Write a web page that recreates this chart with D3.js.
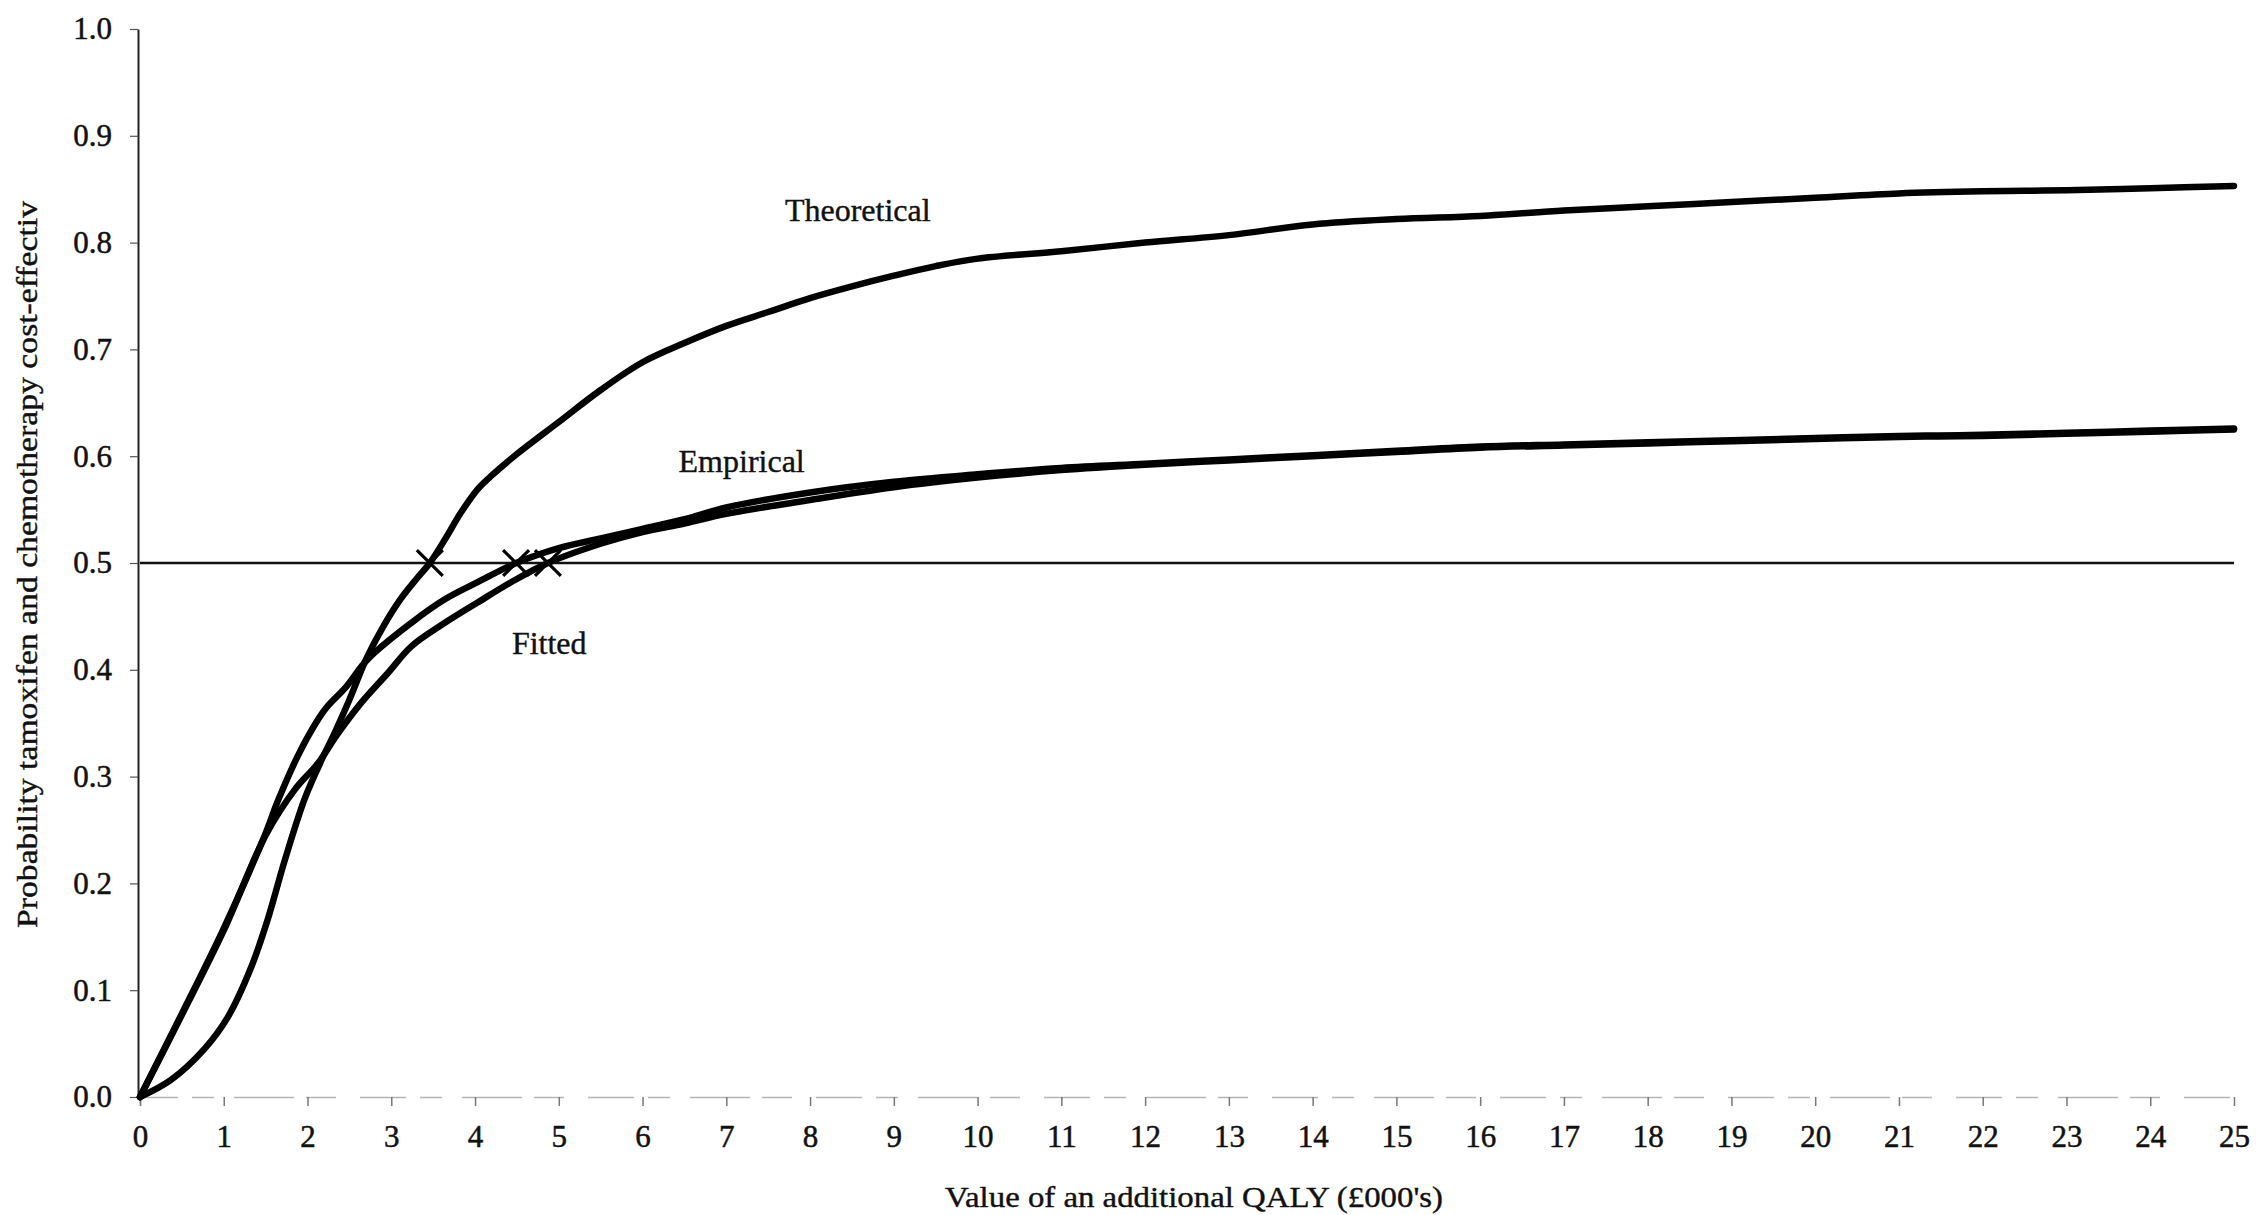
<!DOCTYPE html>
<html>
<head>
<meta charset="utf-8">
<script src="https://cdn.jsdelivr.net/npm/d3@7"></script>
<style>
  html, body { margin: 0; padding: 0; background: #fff; }
  svg { display: block; }
  text { font-family: "Liberation Serif", "Times New Roman", serif; fill: #111; }
</style>
</head>
<body>
<svg id="chart" width="2256" height="1215"></svg>
<script>
// Acceptability curves: probability that tamoxifen + chemotherapy is cost-effective
// against the value placed on an additional QALY (£000's).

const xTicks = d3.range(0, 26);                  // 0 … 25
const yTicks = d3.range(0, 11).map(d => d / 10); // 0.0 … 1.0

const theoretical = [
  [0, 0], [0.37, 0.016], [0.77, 0.045], [1.05, 0.075], [1.32, 0.12], [1.52, 0.165],
  [1.73, 0.222], [1.97, 0.28], [2.17, 0.316], [2.33, 0.342], [2.5, 0.372], [2.7, 0.41],
  [2.9, 0.44], [3.1, 0.465], [3.3, 0.485], [3.46, 0.5], [3.64, 0.522], [3.83, 0.547],
  [4.03, 0.569], [4.2, 0.582], [4.5, 0.602], [5, 0.632], [5.5, 0.662], [6, 0.688],
  [6.5, 0.706], [7, 0.722], [7.5, 0.735], [8, 0.748], [8.5, 0.759], [9, 0.769],
  [9.5, 0.778], [10, 0.785], [11, 0.792], [12, 0.8], [13, 0.807], [14, 0.817],
  [15, 0.822], [16, 0.825], [17, 0.83], [18, 0.834], [19, 0.838], [20, 0.842],
  [21, 0.846], [22, 0.848], [23, 0.849], [24, 0.851], [25, 0.853]
];

const empirical = [
  [0, 0], [0.5, 0.078], [1, 0.158], [1.5, 0.247], [1.65, 0.278], [1.92, 0.325],
  [2.21, 0.363], [2.45, 0.383], [2.72, 0.41], [3.24, 0.444], [3.64, 0.466], [4.03, 0.482],
  [4.49, 0.5], [5, 0.514], [5.5, 0.523], [6, 0.532], [6.5, 0.541], [7, 0.552],
  [8, 0.566], [9, 0.576], [10, 0.583], [11, 0.589], [12, 0.593], [13, 0.597],
  [14, 0.601], [15, 0.605], [16, 0.609], [17, 0.611], [18, 0.613], [19, 0.615],
  [20, 0.617], [21, 0.619], [22, 0.62], [23, 0.622], [24, 0.624], [25, 0.626]
];

const fitted = [
  [0, 0], [0.5, 0.077], [1, 0.156], [1.5, 0.245], [1.85, 0.288], [2.12, 0.312],
  [2.36, 0.34], [2.64, 0.369], [2.96, 0.397], [3.24, 0.422], [3.64, 0.444], [4.03, 0.463],
  [4.43, 0.482], [4.87, 0.5], [5.5, 0.518], [6, 0.529], [6.5, 0.537], [7, 0.546],
  [8, 0.559], [9, 0.571], [10, 0.58], [11, 0.587], [12, 0.592], [13, 0.596],
  [14, 0.6], [15, 0.604], [16, 0.608], [17, 0.61], [18, 0.612], [19, 0.614],
  [20, 0.616], [21, 0.618], [22, 0.619], [23, 0.621], [24, 0.623], [25, 0.625]
];

// Values of a QALY at which each curve reaches a probability of 0.5
const crossings = [[3.46, 0.5], [4.49, 0.5], [4.87, 0.5]];
const threshold = 0.5;

const curveLabels = [
  { text: "Theoretical", x: 7.7, y: 0.82 },
  { text: "Empirical",   x: 6.43, y: 0.585 },
  { text: "Fitted",      x: 4.44, y: 0.415 }
];

const xTitle = "Value of an additional QALY (£000's)";
const yTitle = "Probability tamoxifen and chemotherapy cost-effective";

// ---- layout ----
const svg = d3.select("#chart");
const x = d3.scaleLinear().domain([0, 25]).range([140, 2234]);
const y = d3.scaleLinear().domain([0, 1]).range([1097, 29]);
const serif = "'Liberation Serif','Times New Roman',serif";

// x axis: faint broken baseline with downward ticks
const xAxis = svg.append("g").attr("transform", `translate(0,${y(0)})`)
  .call(d3.axisBottom(x).tickValues(xTicks).tickSize(9).tickPadding(19).tickFormat(d3.format("d")));
xAxis.select(".domain").attr("stroke", "#b5b5b5").attr("stroke-width", 1.5)
  .attr("stroke-dasharray", "46 14 22 20 60 12 30 24");
xAxis.selectAll(".tick line").attr("stroke", "#777").attr("stroke-width", 1.5);
xAxis.selectAll(".tick text").attr("font-size", 31).attr("fill", "#111")
  .attr("stroke", "#111").attr("stroke-width", 0.5).attr("font-family", serif);

// y axis
const yAxis = svg.append("g").attr("transform", `translate(${x(0) - 2},0)`)
  .call(d3.axisLeft(y).tickValues(yTicks).tickSize(8).tickSizeOuter(0).tickPadding(18).tickFormat(d3.format(".1f")));
yAxis.select(".domain").attr("stroke", "#222").attr("stroke-width", 2);
yAxis.selectAll(".tick line").attr("stroke", "#555").attr("stroke-width", 1.2);
yAxis.selectAll(".tick text").attr("font-size", 31).attr("fill", "#111")
  .attr("stroke", "#111").attr("stroke-width", 0.5).attr("font-family", serif);

// 0.5 reference line
svg.append("line")
  .attr("x1", x(0)).attr("x2", x(25))
  .attr("y1", y(threshold)).attr("y2", y(threshold))
  .attr("stroke", "#111").attr("stroke-width", 2.5);

// curves
const line = d3.line().x(d => x(d[0])).y(d => y(d[1])).curve(d3.curveCatmullRom.alpha(0.5));
[theoretical, empirical, fitted].forEach(series => {
  svg.append("path")
    .datum(series)
    .attr("d", line)
    .attr("fill", "none")
    .attr("stroke", "#000")
    .attr("stroke-width", 6.5)
    .attr("stroke-linejoin", "round")
    .attr("stroke-linecap", "round");
});

// crossing markers
svg.append("g").selectAll("path.cross")
  .data(crossings)
  .join("path")
  .attr("class", "cross")
  .attr("d", d3.symbol(d3.symbolTimes, 440))
  .attr("transform", d => `translate(${x(d[0])},${y(d[1])})`)
  .attr("fill", "none")
  .attr("stroke", "#000")
  .attr("stroke-width", 3.2);

// curve labels
svg.append("g").selectAll("text.curve-label")
  .data(curveLabels)
  .join("text")
  .attr("class", "curve-label")
  .attr("x", d => x(d.x))
  .attr("y", d => y(d.y))
  .attr("font-size", 32)
  .attr("stroke", "#111").attr("stroke-width", 0.4)
  .text(d => d.text);

// axis titles
svg.append("text")
  .attr("x", 1194).attr("y", 1207)
  .attr("text-anchor", "middle")
  .attr("font-size", 30)
  .attr("textLength", 498)
  .attr("lengthAdjust", "spacingAndGlyphs")
  .attr("stroke", "#111").attr("stroke-width", 0.4)
  .text(xTitle);

svg.append("clipPath").attr("id", "ytitle-clip")
  .append("rect").attr("x", 0).attr("y", 200).attr("width", 100).attr("height", 800);

svg.append("g").attr("clip-path", "url(#ytitle-clip)")
  .append("text")
  .attr("transform", "translate(37,928) rotate(-90)")
  .attr("font-size", 30)
  .attr("textLength", 742)
  .attr("lengthAdjust", "spacingAndGlyphs")
  .attr("stroke", "#111").attr("stroke-width", 0.4)
  .text(yTitle);
</script>
</body>
</html>
